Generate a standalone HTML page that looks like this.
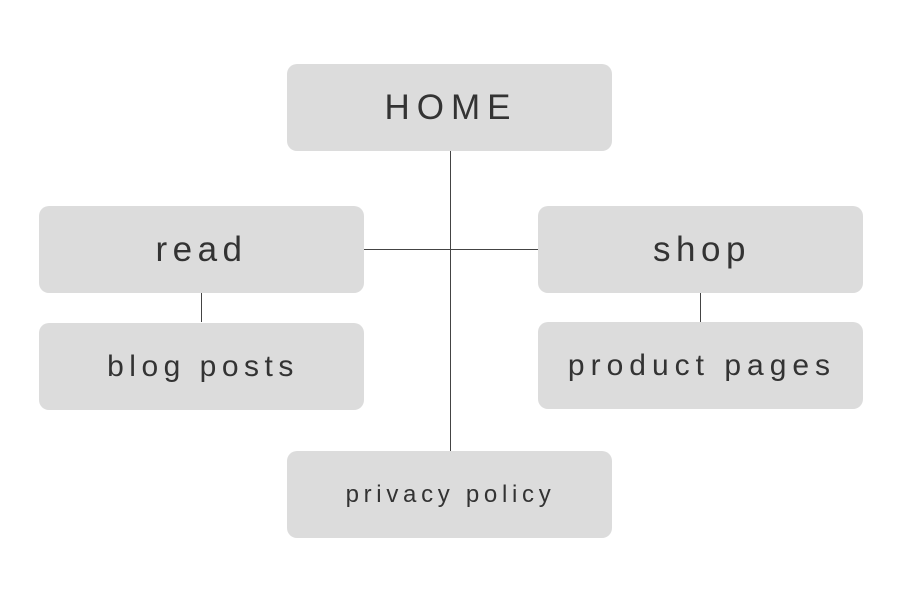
<!DOCTYPE html>
<html><head><meta charset="utf-8"><style>
body{margin:0;width:900px;height:600px;background:#fff;position:relative;overflow:hidden;font-family:"Liberation Sans",sans-serif;}
.b{position:absolute;width:325px;height:87px;background:#dcdcdc;border-radius:10px;display:flex;align-items:center;justify-content:center;color:#333;box-sizing:border-box;}
.l{position:absolute;background:#444;}
</style></head><body>
<div class="l" style="left:450px;top:151px;width:1px;height:300px"></div>
<div class="l" style="left:364px;top:249px;width:174px;height:1px"></div>
<div class="l" style="left:201px;top:293px;width:1px;height:29px"></div>
<div class="l" style="left:700px;top:293px;width:1px;height:29px"></div>
<div class="b" style="left:287px;top:64px;font-size:35px;letter-spacing:7px;padding-left:3px">HOME</div>
<div class="b" style="left:39px;top:206px;font-size:35px;letter-spacing:5.5px;padding-left:0px">read</div>
<div class="b" style="left:538px;top:206px;font-size:35px;letter-spacing:5.5px;padding-left:3px">shop</div>
<div class="b" style="left:39px;top:323px;font-size:30px;letter-spacing:5.5px;padding-left:3px">blog posts</div>
<div class="b" style="left:538px;top:322px;font-size:30px;letter-spacing:6px;padding-left:3px">product pages</div>
<div class="b" style="left:287px;top:451px;font-size:24px;letter-spacing:4.7px;padding-left:2px">privacy policy</div>
</body></html>
